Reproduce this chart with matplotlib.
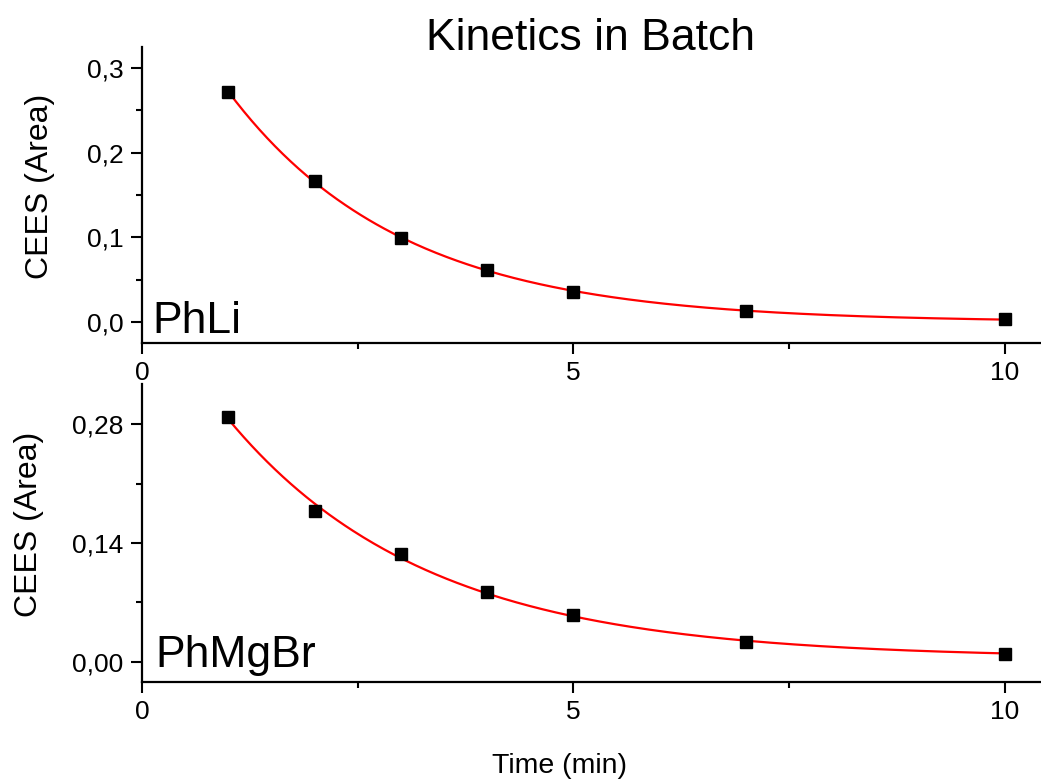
import numpy as np
import matplotlib
matplotlib.use('Agg')
import matplotlib.pyplot as plt
from matplotlib.ticker import FixedLocator, MultipleLocator, FuncFormatter

plt.rcParams['font.family'] = ['Liberation Sans', 'DejaVu Sans']

# Data
time_min = [1, 2, 3, 4, 5, 7, 10]
cees_phli = [0.272, 0.166, 0.0994, 0.0615, 0.0355, 0.0134, 0.003]
cees_phmgbr = [0.289, 0.178, 0.127, 0.082, 0.055, 0.0232, 0.0091]


def fit_exp_decay(x, y):
    """Fit y = A*exp(-k*x) + y0 (grid search on k, linear lsq for A, y0)."""
    x = np.asarray(x, float)
    y = np.asarray(y, float)
    best = None
    for k in np.linspace(0.05, 2.0, 4000):
        M = np.column_stack([np.exp(-k * x), np.ones_like(x)])
        coef, res, _, _ = np.linalg.lstsq(M, y, rcond=None)
        err = np.sum((M @ coef - y) ** 2)
        if best is None or err < best[0]:
            best = (err, k, coef)
    _, k, (A, y0) = best
    return lambda t: A * np.exp(-k * t) + y0


def comma_fmt(decimals):
    return FuncFormatter(lambda v, p: f'{v:.{decimals}f}'.replace('.', ','))


def style_axes(ax, ysize):
    for side in ('top', 'right'):
        ax.spines[side].set_visible(False)
    for side in ('left', 'bottom'):
        ax.spines[side].set_linewidth(1.6)
    ax.tick_params(which='major', direction='out', length=8, width=1.5, pad=6)
    ax.tick_params(which='minor', direction='out', length=4.5, width=1.5)
    ax.tick_params(axis='x', labelsize=19, pad=5)
    ax.tick_params(axis='y', labelsize=ysize, pad=5.5)
    ax.xaxis.set_major_locator(FixedLocator([0, 5, 10]))
    ax.xaxis.set_minor_locator(MultipleLocator(2.5))
    ax.set_xlim(0, 10.42)


W, H = 1041, 782
fig = plt.figure(figsize=(W / 100, H / 100), dpi=100)
ax1 = fig.add_axes([142 / W, 1 - 343 / H, 1 - 142 / W, (343 - 47) / H])
ax2 = fig.add_axes([142 / W, 1 - 682.3 / H, 1 - 142 / W, (682.3 - 384) / H])

t_fit = np.linspace(min(time_min), max(time_min), 300)

for ax, y, label, ylim, major, dec, ysize, lab_x, txt_pos in [
        (ax1, cees_phli, 'PhLi', (-0.025, 0.325), [0, 0.1, 0.2, 0.3], 1, 19,
         -0.097, (0.011, 0.034)),
        (ax2, cees_phmgbr, 'PhMgBr', (-0.0243, 0.3275), [0, 0.14, 0.28], 2, 19,
         -0.109, (0.0145, 0.051))]:
    f = fit_exp_decay(time_min, y)
    ax.plot(t_fit, f(t_fit), color='#ff0000', linewidth=1.6, zorder=2)
    ax.plot(time_min, y, linestyle='none', marker='s', markersize=9,
            color='black', zorder=3)
    style_axes(ax, ysize)
    ax.set_ylim(*ylim)
    ax.yaxis.set_major_locator(FixedLocator(major))
    step = major[1] - major[0]
    ax.yaxis.set_minor_locator(FixedLocator(
        [major[0] + step * (i + 0.5) for i in range(len(major) - 1)]))
    ax.yaxis.set_major_formatter(comma_fmt(dec))
    ax.set_ylabel('CEES (Area)', fontsize=23)
    ax.yaxis.set_label_coords(lab_x, 0.53)
    ax.text(txt_pos[0], txt_pos[1], label, transform=ax.transAxes,
            fontsize=32, va='baseline', ha='left')

fig.text(590 / W, 1 - 50 / H, 'Kinetics in Batch', fontsize=32,
         ha='center', va='baseline')
fig.text(560 / W, 1 - 773 / H, 'Time (min)', fontsize=20.5,
         ha='center', va='baseline')

fig.savefig('out.png', dpi=100)
